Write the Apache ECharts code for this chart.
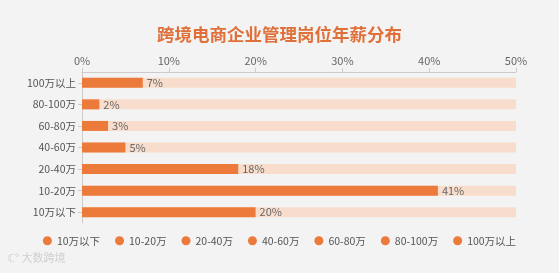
<!DOCTYPE html>
<html><head><meta charset="utf-8">
<script src="https://cdn.jsdelivr.net/npm/echarts@6/dist/echarts.min.js"></script>
<style>html,body{margin:0;padding:0;background:#f3f3f3}#c{width:559px;height:273px}</style>
</head><body><div id="c"></div>
<script>
const categories = ['10万以下','10-20万','20-40万','40-60万','60-80万','80-100万','100万以上'];
const values = [20, 41, 18, 5, 3, 2, 7];
const axisMax = 50;
const tickLabels = ['0%','10%','20%','30%','40%','50%'];

const font = '"Noto Sans CJK SC", "Noto Sans", sans-serif';
const orange = '#EC7A3B';
const series = [{
  type: 'bar', name: 'bg', data: categories.map(() => axisMax), barWidth: 10,
  itemStyle: { color: '#F8DDCD' }, silent: true, z: 1
}];
categories.forEach((c, i) => {
  series.push({
    type: 'bar', name: c, stack: 'v', barWidth: 10, barGap: '-100%', z: 2,
    data: categories.map((_, j) => j === i ? values[i] : '-'),
    itemStyle: { color: orange },
    label: { show: true, position: 'right', formatter: '{c}%', color: '#666', fontSize: 11, fontFamily: font, distance: 4 }
  });
});
const chart = echarts.init(document.getElementById('c'));
chart.setOption({
  backgroundColor: '#f3f3f3',
  animation: false,
  title: { text: '跨境电商企业管理岗位年薪分布', left: 'center', top: 21,
    textStyle: { color: '#E0703A', fontSize: 17.5, fontWeight: 'bold', fontFamily: font } },
  grid: { left: 82, right: 43, top: 72, height: 151, containLabel: false },
  xAxis: { type: 'value', position: 'top', min: 0, max: axisMax, interval: 10,
    axisLine: { show: true, lineStyle: { color: '#ccc' } },
    axisTick: { show: true, length: 4, lineStyle: { color: '#ccc' } },
    splitLine: { show: false },
    axisLabel: { color: '#666', fontSize: 11, fontFamily: font, margin: 6,
      formatter: v => tickLabels[Math.round(v / 10)] } },
  yAxis: { type: 'category', data: categories,
    axisLine: { show: true, lineStyle: { color: '#ccc' } },
    axisTick: { show: true, alignWithLabel: true, length: 4, lineStyle: { color: '#ccc' } },
    axisLabel: { color: '#555', fontSize: 10.5, fontFamily: font, margin: 6 } },
  legend: { data: categories, bottom: 22, left: 'center', icon: 'circle', itemWidth: 9, itemHeight: 9, itemGap: 15,
    textStyle: { color: '#555', fontSize: 10.5, fontFamily: font } },
  graphic: [{ type: 'text', left: 8, top: 252, style: { text: 'ℂ° 大数跨境', fill: '#d0d0d0', font: '11px ' + font } }],
  series: series
});
</script></body></html>
